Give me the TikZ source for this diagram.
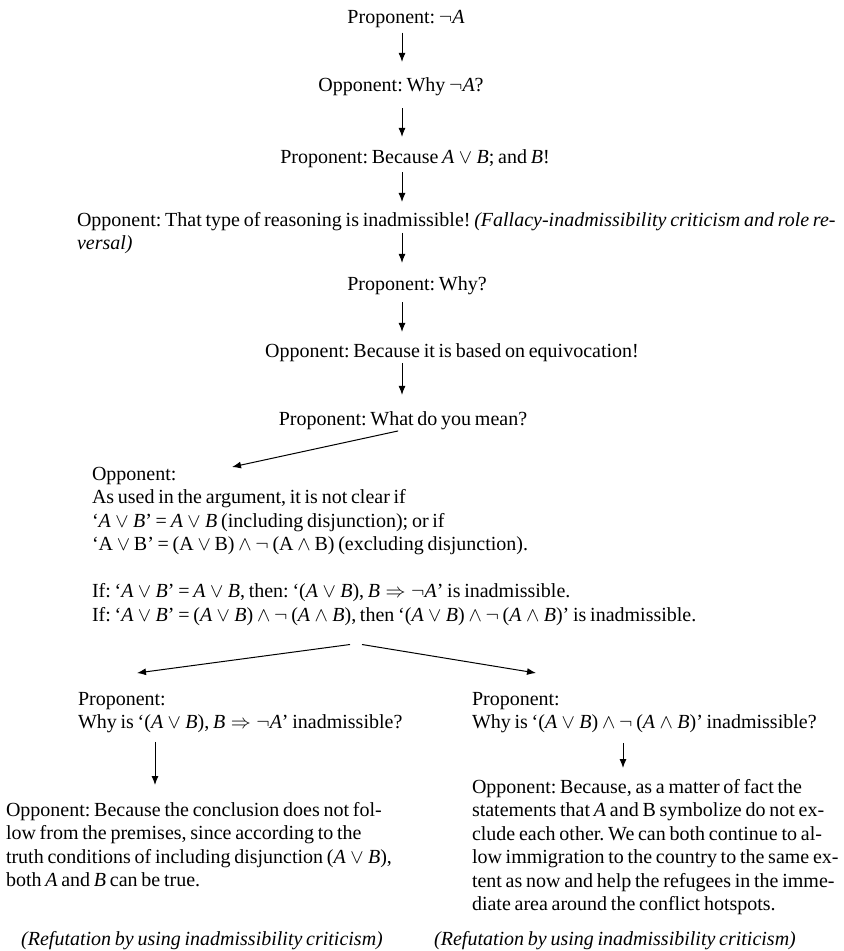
\documentclass[tikz,border=0pt]{standalone}
\usepackage{fontspec}
\setmainfont{Liberation Serif}[WordSpace=0.75]
\usepackage{tikz}
\usetikzlibrary{arrows.meta}
\usetikzlibrary{calc,positioning}
\frenchspacing
\newcommand{\sA}{\textit{A}}
\newcommand{\sB}{\textit{B}}
\tikzset{%
  >={Latex[width=3.5pt,length=4.5pt]},
  % Specifications for style of nodes:
  move/.style = {inner sep=0pt, outer sep=0pt, align=left,
    font=\fontsize{10pt}{11.75pt}\selectfont},
  verdict/.style = {move, font=\fontsize{10pt}{11.75pt}\selectfont\itshape},
  link/.style = {->, line width=0.5pt},
}

\begin{document}
\begin{tikzpicture}[x=0.5pt, y=-0.5pt]
        \useasboundingbox (0,0) rectangle (844,951);
        \coordinate (Axis) at (402,0);
        % Specification of nodes (position, etc.)
        \node(Prop1)[move] at (406,19) {Proponent: $\neg\sA$};
        \node(Opp1)[move] at (401,87) {Opponent: Why $\neg\sA$?};
        \node(Prop2)[move] at (415,159) {Proponent: Because $\sA \vee \sB$; and \sB!};
        \node(Opp2)[move, anchor=north west] at (77,212) {Opponent: That type of reasoning is inadmissible! \textit{(Fallacy-inadmissibility criticism and role re-}\\
          \textit{versal)}};
        \node(Prop3)[move] at (417,286) {Proponent: Why?};
        \node(Opp3)[move] at (452,353) {Opponent: Because it is based on equivocation!};
        \node(Prop4)[move] at (403,421) {Proponent: What do you mean?};
        \node(Opp4)[move, anchor=north west] at (92,467) {Opponent:\\
          As used in the argument, it is not clear if\\
          `$\sA \vee \sB$' = $\sA \vee \sB$ (including disjunction); or if\\
          `A $\vee$ B' = (A $\vee$ B) $\wedge$ $\neg$ (A $\wedge$ B) (excluding disjunction).\\[11.75pt]
          If: `$\sA \vee \sB$' = $\sA \vee \sB$, then: `($\sA \vee \sB$), $\sB \Rightarrow \neg\sA$' is inadmissible.\\
          If: `$\sA \vee \sB$' = ($\sA \vee \sB$) $\wedge$ $\neg$ ($\sA \wedge \sB$), then `($\sA \vee \sB$) $\wedge$ $\neg$ ($\sA \wedge \sB$)' is inadmissible.};
        \node(Prop5)[move, anchor=north west] at (78,692) {Proponent:\\
          Why is `($\sA \vee \sB$), $\sB \Rightarrow \neg\sA$' inadmissible?};
        \node(Prop6)[move, anchor=north west] at (472,692) {Proponent:\\
          Why is `($\sA \vee \sB$) $\wedge$ $\neg$ ($\sA \wedge \sB$)' inadmissible?};
        \node(Opp5)[move, anchor=north west] at (6,802) {Opponent: Because the conclusion does not fol-\\
          low from the premises, since according to the\\
          truth conditions of including disjunction ($\sA \vee \sB$),\\
          both \sA{} and \sB{} can be true.};
        \node(Opp6)[move, anchor=north west] at (472,779) {Opponent: Because, as a matter of fact the\\
          statements that \sA{} and B symbolize do not ex-\\
          clude each other. We can both continue to al-\\
          low immigration to the country to the same ex-\\
          tent as now and help the refugees in the imme-\\
          diate area around the conflict hotspots.};
        \node(Ref1)[verdict] at (202,941) {(Refutation by using inadmissibility criticism)};
        \node(Ref2)[verdict] at (615,941) {(Refutation by using inadmissibility criticism)};
        % arrows
        \draw[link, shorten <=2.5pt, shorten >=8pt](Prop1.south -| Axis) -- (Opp1.north -| Axis);
        \draw[link, shorten <=6pt, shorten >=6.5pt](Opp1.south -| Axis) -- (Prop2.north -| Axis);
        \draw[link, shorten <=2pt, shorten >=5pt](Prop2.south -| Axis) -- (Opp2.north -| Axis);
        \draw[link, shorten >=7pt](Opp2.center -| Axis) -- (Prop3.north -| Axis);
        \draw[link, shorten <=3.5pt, shorten >=6pt](Prop3.south -| Axis) -- (Opp3.north -| Axis);
        \draw[link, shorten <=0.5pt, shorten >=8.5pt](Opp3.south -| Axis) -- (Prop4.north -| Axis);
        \draw[link, shorten <=2pt](Prop4.south -| Axis) -- ([xshift=70pt]Opp4.north west);
        \draw[link]([shift={(258,19)}]Opp4.south west) -- ([shift={(59,-19)}]Prop5.north west);
        \draw[link]([shift={(270,19)}]Opp4.south west) -- ([shift={(64,-19)}]Prop6.north west);
        \draw[link]([shift={(77,9)}]Prop5.south west) -- ([shift={(149,-17)}]Opp5.north west);
        \draw[link]([shift={(151,10)}]Prop6.south west) -- ([shift={(151,-11)}]Opp6.north west);
    \end{tikzpicture}
\end{document}
